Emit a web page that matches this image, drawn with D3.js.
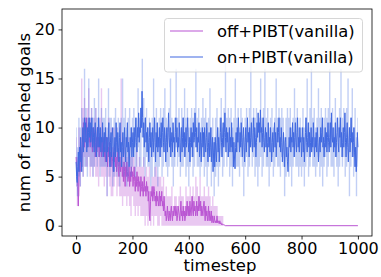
<!DOCTYPE html>
<html><head><meta charset="utf-8">
<script src="https://cdn.jsdelivr.net/npm/d3@7"></script>
<style>html,body{margin:0;padding:0;background:#fff}svg{display:block}text{font-family:"DejaVu Sans",sans-serif}</style>
</head><body><svg id="c" width="381" height="277"></svg>
<script>
const stepSize = 2;      // mean lines: t = 0,2,4,...
const bandStep = 5;      // min/max bands: t = 0,5,10,...
const xTicks = [0, 200, 400, 600, 800, 1000];
const yTicks = [0, 5, 10, 15, 20];
const seriesNames = ["off+PIBT(vanilla)", "on+PIBT(vanilla)"];
const seriesColors = ["#ba55d3", "#4169e1"];

// on+PIBT(vanilla) mean, t = 0,2,...,1000
const onMean = [
6.5,5.0,4.4,6.0,7.5,5.5,8.0,6.5,9.0,7.0,5.5,8.5,10.0,7.5,9.5,11.0,8.5,10.5,9.0,7.5,10.0,8.0,9.5,11.0,9.0,
10.5,8.5,9.5,11.0,8.0,10.0,9.0,7.5,9.5,10.5,8.5,7.0,9.0,10.0,8.0,11.0,9.5,8.0,10.0,7.5,9.0,8.5,10.5,7.0,8.5,
9.5,7.5,10.0,8.0,6.5,9.0,7.5,8.5,10.5,8.0,6.0,8.5,9.5,7.0,9.0,10.0,7.5,5.5,8.0,9.0,7.0,10.5,8.5,7.5,9.5,
8.0,6.5,9.0,10.5,7.5,8.5,6.0,8.0,9.5,7.0,8.5,10.0,7.5,6.5,9.0,8.0,10.5,7.5,8.5,6.0,7.5,9.0,8.0,10.0,7.0,
8.5,9.5,7.0,10.0,8.0,9.0,11.0,8.5,7.5,10.0,9.0,11.5,8.5,10.0,9.5,12.0,10.0,13.7,11.0,9.0,10.5,8.0,9.5,11.0,8.5,
9.5,7.5,10.0,8.5,6.5,9.0,10.5,8.0,9.5,7.0,8.5,10.0,7.5,9.0,11.0,8.5,6.5,9.5,8.0,10.5,7.5,9.0,8.0,10.0,7.0,
9.0,10.5,8.0,9.5,11.0,8.5,7.5,10.0,9.0,6.5,8.5,10.0,7.5,9.5,11.5,9.0,8.0,10.0,7.0,8.5,9.5,7.5,10.5,8.5,9.0,
7.0,9.5,11.0,8.5,10.0,7.5,9.0,8.0,10.5,9.0,6.5,8.5,10.0,7.5,9.0,11.0,8.0,9.5,7.0,8.5,10.0,8.0,9.5,11.0,8.5,
7.5,9.0,6.5,8.5,10.0,8.0,9.5,7.0,10.5,8.5,9.0,11.5,9.5,8.0,10.0,7.5,9.0,8.5,10.5,7.0,8.0,9.5,6.5,8.5,10.0,
8.0,9.5,7.0,10.0,8.5,7.5,9.0,10.5,8.0,6.5,8.5,9.5,7.0,8.0,10.0,6.5,8.0,9.0,5.5,7.5,8.5,6.0,9.0,7.5,6.5,
8.5,10.0,7.5,9.0,6.5,8.0,9.5,11.0,8.5,7.0,9.0,10.5,8.0,9.5,11.5,9.0,7.5,10.0,8.5,9.5,7.0,8.5,10.0,7.5,9.0,
8.0,10.5,7.5,9.0,6.0,8.5,7.0,5.8,8.0,9.5,7.5,10.0,8.5,11.0,9.0,7.5,9.5,8.0,10.5,8.5,7.0,9.0,10.0,8.0,6.5,
8.5,10.0,7.5,9.0,11.0,8.5,9.5,7.0,10.0,8.0,9.0,10.5,8.5,7.5,9.5,11.0,8.0,10.0,9.0,7.0,8.5,10.5,9.0,11.5,9.5,
10.5,8.5,11.8,9.5,10.0,8.0,9.5,11.0,8.5,7.5,9.0,10.0,8.0,9.5,7.0,8.5,10.5,8.0,9.0,7.5,10.0,8.5,6.5,8.5,9.5,
7.5,9.0,10.5,8.0,9.5,7.0,8.5,10.0,8.5,9.5,11.0,8.0,9.0,7.5,10.0,8.5,6.5,8.0,9.5,7.5,6.0,8.5,9.0,7.0,8.0,
6.5,5.5,7.5,9.0,8.0,10.0,7.5,9.0,8.5,10.5,8.0,9.5,7.0,9.0,10.5,8.5,7.5,9.5,11.0,8.0,9.0,7.5,10.0,8.5,9.0,
7.0,8.5,10.0,7.5,9.0,6.5,8.0,9.5,11.0,8.5,7.5,9.0,10.5,8.0,9.5,7.0,8.5,10.0,7.5,9.0,8.0,10.5,8.5,7.0,9.0,
8.0,9.5,7.5,10.0,8.5,6.5,8.0,9.0,7.5,10.0,8.5,9.5,11.0,8.0,9.0,7.0,8.5,10.0,8.0,9.5,7.5,9.0,10.5,8.5,7.5,
9.0,10.5,8.0,11.5,9.0,8.5,10.0,7.5,9.0,8.0,10.5,7.0,8.5,9.5,11.0,8.5,7.5,10.0,9.0,11.0,8.0,9.5,7.0,8.5,10.0,
8.0,9.5,11.5,8.5,7.0,9.0,10.5,8.0,6.5,8.5,10.0,7.5,9.0,11.0,8.5,9.5,7.0,8.5,10.0,7.5,6.0,8.0,5.5,7.0,9.5,
8.0];
// on+PIBT(vanilla) band, t = 0,5,...,1000
const onHi = [
10,8,11,10,12,11,16,12,11,15,11,12,11,13,12,11,15,10,12,11,
11,12,10,14,11,11,9,11,12,10,11,10,11,15,11,12,10,11,12,10,
11,12,10,11,14,11,12,17,13,11,12,10,11,10,11,15,11,12,10,11,
12,11,12,14,11,10,12,15,11,10,11,16,11,12,10,12,11,14,11,12,
10,11,12,11,12,16,11,12,10,11,13,11,12,10,11,14,10,11,9,11,
12,10,11,13,10,12,17,11,12,11,12,10,11,15,11,12,10,12,11,9,
11,12,10,12,17,11,12,11,12,10,11,15,11,12,16,11,12,10,11,12,
10,11,15,11,12,11,12,11,9,11,12,11,12,10,11,14,11,12,10,11,
10,12,10,11,15,10,12,16,11,12,10,11,14,11,12,10,11,12,11,12,
16,11,12,10,13,11,10,12,16,11,12,10,12,15,10,11,14,10,12,9,
11];
const onLo = [
4,3,5,4,6,5,6,6,5,7,6,6,5,6,7,6,7,5,6,6,
6,6,3,7,5,6,4,5,7,5,6,4,6,7,5,6,4,5,6,5,
6,7,5,6,8,6,6,9,6,5,7,6,6,4,5,7,5,6,4,6,
7,5,6,8,6,5,6,7,6,4,6,8,6,7,5,6,6,7,5,6,
4,6,7,5,6,8,6,6,5,6,7,5,6,4,6,7,4,6,3,5,
6,4,6,7,5,6,8,6,7,5,6,4,6,8,6,6,5,7,6,3,
6,7,5,6,8,6,7,5,6,4,6,7,5,6,8,6,6,4,6,7,
5,6,8,6,6,5,7,6,3,5,7,5,6,4,6,7,6,6,5,6,
5,6,4,6,7,5,6,8,6,6,5,6,7,5,6,4,6,7,5,6,
8,6,6,5,7,6,4,6,8,6,7,5,6,8,3,6,7,5,6,3,
6];

// off+PIBT(vanilla) mean, t = 0,2,...,530 (stays at 0 afterwards)
const offMean = [
7.0,6.0,5.0,4.0,2.0,5.0,6.5,5.5,8.0,7.0,6.0,9.0,8.5,10.5,9.0,8.0,10.0,9.5,11.0,9.0,8.0,9.5,10.5,8.5,9.0,
8.0,9.5,10.0,8.5,7.5,9.0,10.0,8.0,9.5,7.0,8.5,9.0,7.5,10.0,8.0,9.0,7.0,8.5,9.5,8.0,7.0,8.5,7.5,9.0,8.0,
7.0,8.0,6.5,7.5,9.0,7.0,6.0,8.0,7.0,8.5,6.5,7.5,6.0,8.0,7.0,6.5,5.5,7.5,6.5,8.0,6.0,7.0,5.5,6.5,7.5,
6.0,5.0,7.0,6.0,5.5,7.0,6.5,5.0,6.0,4.5,6.5,5.5,4.0,6.0,5.0,6.5,5.5,4.5,5.0,6.0,4.0,5.5,4.5,6.0,5.0,
5.5,4.0,5.0,6.0,4.5,3.5,5.0,4.0,5.5,4.5,3.5,5.0,4.0,4.5,3.0,5.0,4.0,3.5,4.5,3.0,4.0,5.0,3.5,4.0,3.0,
4.5,3.5,4.0,2.5,3.5,1.0,0.5,2.5,3.5,3.0,4.0,2.5,3.0,4.0,3.5,2.5,3.0,2.0,3.5,2.5,3.0,2.0,2.5,3.5,2.0,
3.0,2.5,3.5,2.0,2.5,1.5,3.0,2.0,1.0,1.5,0.5,1.0,2.0,1.0,0.5,1.5,1.0,0.5,1.5,2.0,1.0,0.5,1.5,1.0,2.0,
1.5,1.0,2.0,1.5,0.5,1.0,2.0,1.5,1.0,0.5,1.5,2.5,1.0,1.5,0.5,2.0,1.0,1.5,0.5,1.0,2.0,1.0,2.5,1.5,1.0,
2.0,1.0,2.5,1.5,1.0,2.0,3.0,1.5,1.0,2.5,1.5,2.0,1.0,1.5,2.5,1.0,2.0,1.5,3.0,2.0,1.5,2.5,1.0,2.0,1.5,
1.0,2.0,2.5,1.5,0.5,2.0,1.0,1.5,0.5,1.0,2.0,0.5,1.5,1.0,0.5,1.5,0.3,1.0,0.5,0.3,1.0,0.5,0.3,0.5,0.3,
1.0,0.3,0.5,0.3,0.2,0.5,0.2,0.3,0.1,0.2,0.1,0.1,0.1,0.1,0,0];
// off+PIBT(vanilla) band, t = 0,5,...,525 (0 afterwards)
const offHi = [
9,7,10,9,15,12,13,11,12,14,11,12,10,11,12,10,9,11,14,10,
9,10,9,11,9,10,8,10,9,10,8,9,15,8,9,8,7,9,8,7,
7,7,6,8,6,7,6,6,7,5,6,5,6,4,5,5,6,6,5,5,
5,4,5,3,4,3,3,3,4,2,3,3,2,3,4,3,3,2,4,3,
3,4,3,4,3,5,4,3,5,3,3,4,3,3,4,3,2,3,2,2,
2,1,1,1,1,0];
const offLo = [
4,2,3,4,6,5,7,6,6,7,5,6,5,6,5,5,4,6,5,5,
4,5,3,5,4,3,3,4,5,3,4,3,3,2,3,3,2,3,2,1,
3,2,1,2,1,2,1,1,1,0,1,0,1,0,1,0,1,1,0,0,
1,0,0,0,0,0,0,0,0,0,0,0,0,0,0,0,0,0,0,0,
0,0,0,0,0,0,0,0,0,0,0,0,0,0,0,0,0,0,0,0,
0,0,0,0,0,0];
const offTail = {t: 1000, v: 0};

const svg = d3.select("#c");
const L = 62, R = 372, T = 9, B = 236;
const x = d3.scaleLinear().domain([-50, 1050]).range([L, R]);
const y = d3.scaleLinear().domain([-1.05, 22.08]).range([B, T]);

const meanRows = arr => arr.map((m, i) => ({t: i * stepSize, m}));
const bandRows = (lo, hi) => lo.map((l, i) => ({t: i * bandStep, lo: l, hi: hi[i]}));

const offLine = meanRows(offMean).concat([{t: offTail.t, m: offTail.v}]);
const offBand = bandRows(offLo, offHi).concat([{t: offTail.t, lo: offTail.v, hi: offTail.v}]);
const onLine = meanRows(onMean);
const onBand = bandRows(onLo, onHi);
const series = [{band: offBand, line: offLine}, {band: onBand, line: onLine}];

svg.append("clipPath").attr("id", "pc").append("rect")
  .attr("x", L).attr("y", T).attr("width", R - L).attr("height", B - T);
const plot = svg.append("g").attr("clip-path", "url(#pc)");

const area = d3.area().x(d => x(d.t)).y0(d => y(d.lo)).y1(d => y(d.hi)).curve(d3.curveStep);
const line = d3.line().x(d => x(d.t)).y(d => y(d.m));

series.forEach((s, k) => {
  plot.append("path").datum(s.band).attr("d", area)
    .attr("fill", seriesColors[k]).attr("fill-opacity", 0.32).attr("stroke", "none");
  plot.append("path").datum(s.line).attr("d", line)
    .attr("fill", "none").attr("stroke", seriesColors[k]).attr("stroke-width", 1.0)
    .attr("stroke-linejoin", "round");
});

// axes
const xAxis = d3.axisBottom(x).tickValues(xTicks).tickFormat(d3.format("d")).tickSize(3.5).tickSizeOuter(0).tickPadding(3.5);
const yAxis = d3.axisLeft(y).tickValues(yTicks).tickFormat(d3.format("d")).tickSize(3.5).tickSizeOuter(0).tickPadding(3.5);
const gx = svg.append("g").attr("transform", `translate(0,${B})`).call(xAxis);
const gy = svg.append("g").attr("transform", `translate(${L},0)`).call(yAxis);
[gx, gy].forEach(g => {
  g.select(".domain").remove();
  g.selectAll("line").attr("stroke", "#000").attr("stroke-width", 0.8);
  g.selectAll("text").attr("fill", "#000").style("font-size", "16px").style("font-family", "DejaVu Sans");
});

svg.append("rect").attr("x", L).attr("y", T).attr("width", R - L).attr("height", B - T)
  .attr("fill", "none").attr("stroke", "#000").attr("stroke-width", 0.8);

svg.append("text").attr("x", (L + R) / 2 + 3).attr("y", 271).attr("text-anchor", "middle")
  .style("font-size", "16.5px").text("timestep");
svg.append("text").attr("transform", `translate(30,${(T + B) / 2}) rotate(-90)`)
  .attr("text-anchor", "middle").style("font-size", "16.5px").text("num of reached goals");

// legend
const lg = svg.append("g");
lg.append("rect").attr("x", 164.5).attr("y", 18.5).attr("width", 198).attr("height", 53.5)
  .attr("rx", 3).attr("fill", "#fff").attr("fill-opacity", 0.8).attr("stroke", "#ccc").attr("stroke-width", 0.8);
seriesNames.forEach((n, k) => {
  const yy = 31 + k * 26;
  lg.append("line").attr("x1", 170).attr("x2", 203).attr("y1", yy).attr("y2", yy)
    .attr("stroke", seriesColors[k]).attr("stroke-width", 1.2);
  lg.append("text").attr("x", 217).attr("y", yy + 6).style("font-size", "16.4px").text(n);
});
</script></body></html>
